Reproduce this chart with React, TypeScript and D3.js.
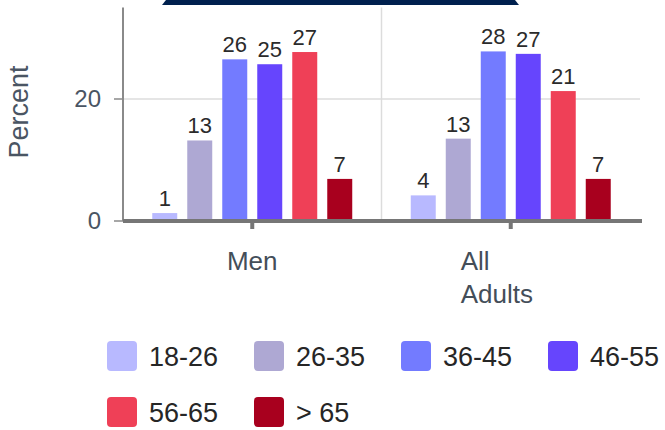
import React from "react";
import * as d3 from "d3";

const groups = ["Men", "All Adults"];
const groupLines = [["Men"], ["All", "Adults"]];
const ageBands = ["18-26", "26-35", "36-45", "46-55", "56-65", "> 65"];
const colors = ["#b8b9ff", "#aea8d3", "#737bff", "#6645fd", "#ef4057", "#a8001e"];
const menValues = [1.3, 13.2, 26.5, 25.7, 27.7, 6.9];
const adultValues = [4.2, 13.5, 27.8, 27.4, 21.3, 6.9];
const menLabels = ["1", "13", "26", "25", "27", "7"];
const adultLabels = ["4", "13", "28", "27", "21", "7"];
const yTicks = [0, 20];

const seriesValues = [menValues, adultValues];
const seriesLabels = [menLabels, adultLabels];

const W = 665;
const H = 430;
const FONT = "'Liberation Sans', Arial, Helvetica, sans-serif";

export default function App() {
  const x0 = d3.scaleBand<string>().domain(groups).range([123, 640]).paddingInner(0).paddingOuter(0);
  const x1 = d3
    .scaleBand<string>()
    .domain(ageBands)
    .range([0, x0.bandwidth()])
    .paddingInner(0.286)
    .paddingOuter(0.836);
  const y = d3.scaleLinear().domain([0, 35]).range([221, 7.5]);

  const legendX = d3.scalePoint<number>().domain([0, 1, 2, 3]).range([107, 548]);
  const legendY = d3.scalePoint<number>().domain([0, 1]).range([341, 397]);

  return (
    <svg
      width={W}
      height={H}
      style={{ position: "absolute", left: 0, top: 0, background: "#fff" }}
      fontFamily={FONT}
    >
      {/* dark header band cut by the frame */}
      <path d="M166,0 L515,0 L519,5 L162,5 Z" fill="#00204e" />

      {/* horizontal gridlines */}
      {yTicks
        .filter((t) => t !== 0)
        .map((t) => (
          <line key={"g" + t} x1={123} x2={640} y1={y(t)} y2={y(t)} stroke="#dcdcdc" strokeWidth={1.5} />
        ))}
      {/* vertical gridline between groups */}
      <line x1={x0("All Adults")!} x2={x0("All Adults")!} y1={y(35)} y2={y(0)} stroke="#dcdcdc" strokeWidth={1.5} />

      {/* bars */}
      {groups.map((g, gi) => (
        <g key={g} transform={`translate(${x0(g)},0)`}>
          {ageBands.map((a, ai) => {
            const v = seriesValues[gi][ai];
            const bx = x1(a)!;
            return (
              <g key={a}>
                <rect x={bx} y={y(v)} width={x1.bandwidth()} height={y(0) - y(v)} fill={colors[ai]} />
                <text
                  x={bx + x1.bandwidth() / 2}
                  y={y(v) - 7}
                  textAnchor="middle"
                  fontSize={22}
                  fill="#2b2b2b"
                >
                  {seriesLabels[gi][ai]}
                </text>
              </g>
            );
          })}
        </g>
      ))}

      {/* y axis */}
      <line x1={123} x2={123} y1={y(35)} y2={y(0)} stroke="#8a8a8a" strokeWidth={2} />
      {yTicks.map((t) => (
        <g key={"t" + t}>
          <line x1={114} x2={123} y1={y(t)} y2={y(t)} stroke="#8a8a8a" strokeWidth={1.5} />
          <text x={101} y={y(t)} dy="0.35em" textAnchor="end" fontSize={24} fill="#4a5563">
            {t}
          </text>
        </g>
      ))}
      <text
        transform={`translate(28,112) rotate(-90)`}
        textAnchor="middle"
        fontSize={27}
        fill="#4a5563"
      >
        Percent
      </text>

      {/* x axis */}
      <line x1={123} x2={642} y1={y(0)} y2={y(0)} stroke="#767676" strokeWidth={4} />
      {groups.map((g, gi) => {
        const cx = x0(g)! + x0.bandwidth() / 2;
        const lines = groupLines[gi];
        const multi = lines.length > 1;
        return (
          <g key={"x" + g}>
            <line x1={cx} x2={cx} y1={y(0)} y2={y(0) + 8} stroke="#767676" strokeWidth={4} />
            <text
              x={multi ? cx - 50 : cx}
              y={270}
              textAnchor={multi ? "start" : "middle"}
              fontSize={26}
              fill="#444e59"
            >
              {lines.map((l, li) => (
                <tspan key={l} x={multi ? cx - 50 : cx} dy={li === 0 ? 0 : 33}>
                  {l}
                </tspan>
              ))}
            </text>
          </g>
        );
      })}

      {/* legend */}
      {ageBands.map((a, i) => {
        const lx = legendX(i % 4)!;
        const ly = legendY(Math.floor(i / 4))!;
        return (
          <g key={"l" + a} transform={`translate(${lx},${ly})`}>
            <rect x={0} y={0} width={30} height={30} rx={4} fill={colors[i]} />
            <text x={42} y={16} dy="0.35em" fontSize={27} fill="#262626">
              {a}
            </text>
          </g>
        );
      })}
    </svg>
  );
}
